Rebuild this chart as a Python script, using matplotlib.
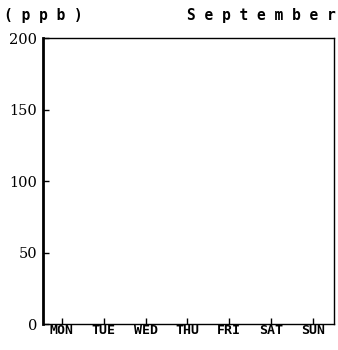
import matplotlib
matplotlib.use("Agg")
import matplotlib.pyplot as plt

days = ["MON", "TUE", "WED", "THU", "FRI", "SAT", "SUN"]
yticks = [0, 50, 100, 150, 200]
unit = "(ppb)"
month = "September"

fig = plt.figure(figsize=(3.38, 3.5), dpi=100)
ax = fig.add_axes([0.127, 0.074, 0.861, 0.817])
ax.set_xlim(-0.45, 6.5)
ax.set_ylim(0, 200)

ax.set_xticks(range(len(days)))
ax.set_xticklabels(days, family="DejaVu Sans Mono", fontsize=9.5, fontweight="bold")
ax.set_yticks(yticks)
ax.set_yticklabels([str(v) for v in yticks], family="DejaVu Serif", fontsize=10.5)
ax.tick_params(axis="x", direction="in", length=4, width=1, pad=0)
ax.tick_params(axis="y", direction="in", length=4, width=1, pad=4)

ax.spines["left"].set_linewidth(2)
for side in ["top", "bottom", "right"]:
    ax.spines[side].set_linewidth(1)

fig.text(0.012, 0.935, " ".join(unit), family="DejaVu Sans Mono", fontsize=10.5,
         fontweight="bold", va="bottom")
fig.text(0.992, 0.935, " ".join(month), family="DejaVu Sans Mono", fontsize=10.5,
         fontweight="bold", va="bottom", ha="right")

fig.savefig("out.png", dpi=100)
